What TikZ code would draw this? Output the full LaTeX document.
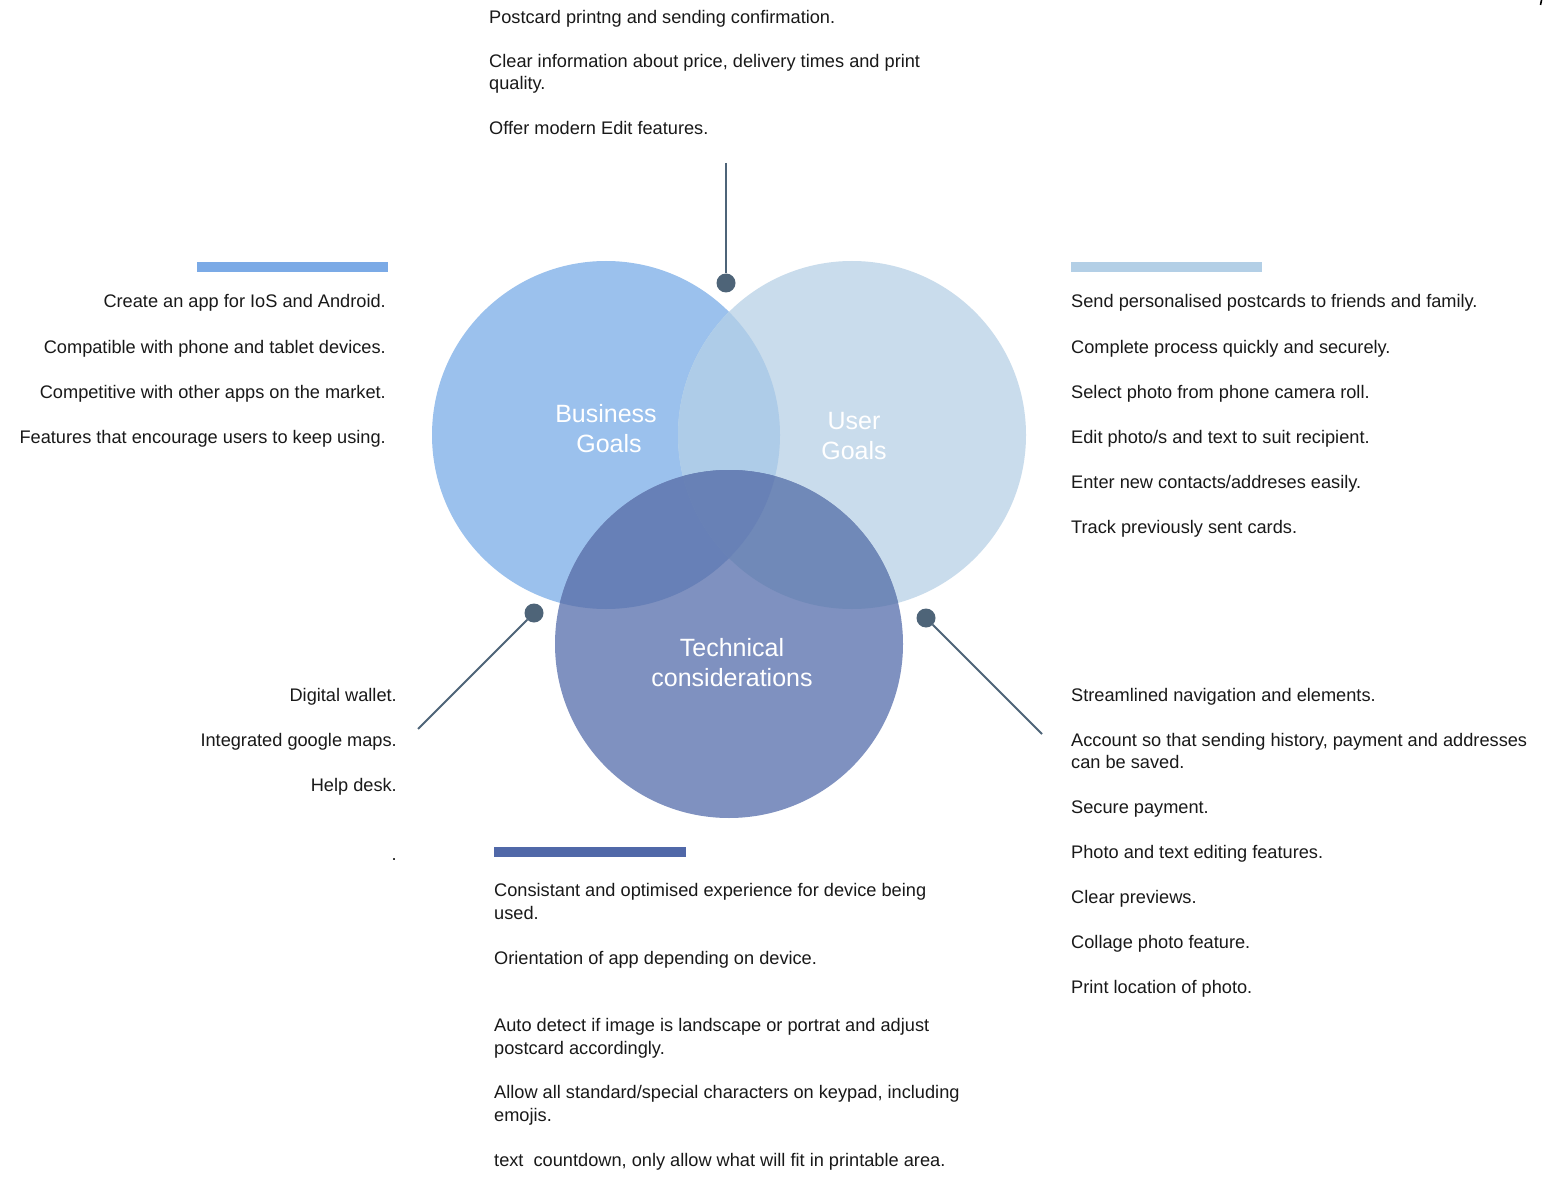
\documentclass[tikz,border=0pt]{standalone}
\usepackage{fontspec}
\setmainfont{Liberation Sans}
\begin{document}
\begin{tikzpicture}[x=1pt,y=-1pt,
  body/.style={inner sep=0pt,font=\fontsize{18.2}{22}\selectfont,text=black!90},
  lw/.style={body,anchor=base west},
  le/.style={body,anchor=base east},
  title/.style={inner sep=0pt,align=center,text=white,font=\fontsize{25}{30}\selectfont},
  dotnode/.style={circle,fill=linkcol,inner sep=0pt,minimum size=19pt},
  link/.style={draw=linkcol,line width=1.8pt},
  ]
\definecolor{bcol}{RGB}{155,193,237}
\definecolor{ucol}{RGB}{201,220,236}
\definecolor{tcol}{RGB}{127,145,192}
\definecolor{bucol}{RGB}{174,204,232}
\definecolor{btcol}{RGB}{103,128,183}
\definecolor{utcol}{RGB}{112,137,184}
\definecolor{butcol}{RGB}{104,129,182}
\definecolor{linkcol}{RGB}{78,100,120}
\definecolor{bbar}{RGB}{123,170,230}
\definecolor{ubar}{RGB}{179,207,230}
\definecolor{tbar}{RGB}{80,104,168}

\useasboundingbox[fill=white] (0,0) rectangle (1558,1182);

% Venn circles
\coordinate (B) at (606,435);
\coordinate (U) at (852,435);
\coordinate (T) at (729,644);
\fill[bcol] (B) circle (174);
\fill[ucol] (U) circle (174);
\fill[tcol] (T) circle (174);
\begin{scope}\clip (B) circle (174); \fill[bucol] (U) circle (174);\end{scope}
\begin{scope}\clip (B) circle (174); \fill[btcol] (T) circle (174);\end{scope}
\begin{scope}\clip (U) circle (174); \fill[utcol] (T) circle (174);\end{scope}
\begin{scope}\clip (B) circle (174); \clip (U) circle (174); \fill[butcol] (T) circle (174);\end{scope}

\node[title] (bt) at (606,429) {Business\\\hspace*{6pt}Goals};
\node[title] (ut) at (854,436) {User\\Goals};
\node[title] (tt) at (732,663) {Technical\\considerations};

% Colour bars
\fill[bbar] (197,262) rectangle (388,272);
\fill[ubar] (1071,262) rectangle (1262,272);
\fill[tbar] (494,847) rectangle (686,857);

% Connectors with dots
\node[dotnode] (d1) at (726,283) {};
\node[dotnode] (d2) at (534,613) {};
\node[dotnode] (d3) at (926,618) {};
\coordinate (e1) at (726,163);
\coordinate (e2) at (418,729);
\coordinate (e3) at (1042,734);
\draw[link] (e1) -- (d1);
\draw[link] (e2) -- (d2);
\draw[link] (e3) -- (d3);

% Top block
\node[lw] (a1) at (489,24) {Postcard printng and sending confirmation.};
\node[lw] (a2) at (489,68) {Clear information about price, delivery times and print};
\node[lw] (a3) at (489,90) {quality.};
\node[lw] (a4) at (489,135) {Offer modern Edit features.};

% Business goals
\node[le] (b1) at (386,308) {Create an app for IoS and Android.};
\node[le] (b2) at (386,353) {Compatible with phone and tablet devices.};
\node[le] (b3) at (386,398) {Competitive with other apps on the market.};
\node[le] (b4) at (386,443) {Features that encourage users to keep using.};

% User goals
\node[lw] (u1) at (1071,308) {Send personalised postcards to friends and family.};
\node[lw] (u2) at (1071,353) {Complete process quickly and securely.};
\node[lw] (u3) at (1071,398) {Select photo from phone camera roll.};
\node[lw] (u4) at (1071,443) {Edit photo/s and text to suit recipient.};
\node[lw] (u5) at (1071,488) {Enter new contacts/addreses easily.};
\node[lw] (u6) at (1071,533) {Track previously sent cards.};

% Business / technical
\node[le] (c1) at (397,701) {Digital wallet.};
\node[le] (c2) at (397,746) {Integrated google maps.};
\node[le] (c3) at (397,791) {Help desk.};
\node[le] (c4) at (397,860) {.};

% User / technical
\node[lw] (v1) at (1071,701) {Streamlined navigation and elements.};
\node[lw] (v2) at (1071,746) {Account so that sending history, payment and addresses};
\node[lw] (v3) at (1071,768) {can be saved.};
\node[lw] (v4) at (1071,813) {Secure payment.};
\node[lw] (v5) at (1071,858) {Photo and text editing features.};
\node[lw] (v6) at (1071,903) {Clear previews.};
\node[lw] (v7) at (1071,948) {Collage photo feature.};
\node[lw] (v8) at (1071,993) {Print location of photo.};

% Technical considerations
\node[lw] (t1) at (494,896) {Consistant and optimised experience for device being};
\node[lw] (t2) at (494,919) {used.};
\node[lw] (t3) at (494,964) {Orientation of app depending on device.};
\node[lw] (t4) at (494,1031) {Auto detect if image is landscape or portrat and adjust};
\node[lw] (t5) at (494,1054) {postcard accordingly.};
\node[lw] (t6) at (494,1098) {Allow all standard/special characters on keypad, including};
\node[lw] (t7) at (494,1121) {emojis.};
\node[lw] (t8) at (494,1166) {text\ \ countdown, only allow what will fit in printable area.};

% Small mark at the top edge
\draw[black,line width=1.6pt] (1541.5,0) -- (1540.5,5);
\end{tikzpicture}
\end{document}
